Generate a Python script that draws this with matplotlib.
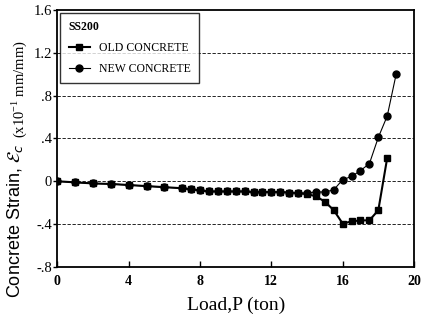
import matplotlib
matplotlib.use("Agg")
import matplotlib.pyplot as plt

load = [0, 1, 2, 3, 4, 5, 6, 7, 7.5, 8, 8.5, 9, 9.5, 10, 10.5, 11, 11.5, 12, 12.5,
        13, 13.5, 14, 14.5, 15, 15.5, 16, 16.5, 17, 17.5, 18, 18.5, 19]
old_concrete = [0, -0.01, -0.02, -0.025, -0.035, -0.045, -0.055, -0.065, -0.075, -0.085,
                -0.095, -0.095, -0.095, -0.095, -0.095, -0.1, -0.1, -0.1, -0.1, -0.105,
                -0.11, -0.12, -0.14, -0.19, -0.27, -0.395, -0.375, -0.365, -0.365, -0.27, 0.22]
new_concrete = [0, -0.01, -0.02, -0.025, -0.035, -0.045, -0.055, -0.065, -0.075, -0.085,
                -0.095, -0.095, -0.095, -0.095, -0.095, -0.1, -0.1, -0.1, -0.1, -0.105,
                -0.11, -0.11, -0.10, -0.10, -0.08, 0.015, 0.045, 0.10, 0.165, 0.41, 0.61, 1.0]
xticks = [0, 4, 8, 12, 16, 20]
yticks = [-0.8, -0.4, 0, 0.4, 0.8, 1.2, 1.6]
ytick_labels = ["-.8", "-.4", "0", ".4", ".8", "1.2", "1.6"]
grid_levels = [-0.4, 0, 0.4, 0.8, 1.2]

serif = "Liberation Serif"
fig = plt.figure(figsize=(4.22, 3.22), dpi=100)
ax = fig.add_axes([0.136, 0.171, 0.845, 0.798])

for g in grid_levels:
    ax.axhline(g, color="black", lw=0.6, ls=(0, (4, 2)), zorder=1)

ax.plot(load[:len(old_concrete)], old_concrete, color="black", lw=1.5, marker="s",
        markersize=5, label="OLD CONCRETE", zorder=3)
ax.plot(load, new_concrete, color="black", lw=0.8, marker="o",
        markersize=5, label="NEW CONCRETE", zorder=3)

ax.set_xlim(0, 20)
ax.set_ylim(-0.8, 1.6)
ax.set_xticks(xticks)
ax.set_xticklabels([str(t) for t in xticks], fontfamily=serif, fontsize=10, fontweight="bold")
ax.set_yticks(yticks)
ax.set_yticklabels(ytick_labels, fontfamily=serif, fontsize=10.5)
ax.tick_params(axis="x", direction="in", length=4, width=1, pad=6)
ax.tick_params(axis="y", direction="out", length=3, width=1, pad=1)
for s in ax.spines.values():
    s.set_linewidth(1.3)

ax.set_xlabel("Load,P (ton)", fontfamily=serif, fontsize=14, labelpad=6)

fig.text(0.035, 1 - 298 / 322, r"Concrete Strain, $\mathcal{E}_c$", rotation=90,
         ha="center", va="bottom", fontsize=13, fontfamily="Liberation Sans")
fig.text(0.045, 1 - 138 / 322, r"(x10$^{\mathregular{-1}}$ mm/mm)", rotation=90,
         ha="center", va="bottom", fontsize=10.5, fontfamily=serif)

leg = ax.legend(loc="upper left", title="SS200", frameon=True,
                fancybox=False, edgecolor="black", borderaxespad=0.25,
                prop={"family": serif, "size": 8.5}, handlelength=1.8,
                labelspacing=0.75, borderpad=0.7,
                title_fontproperties={"family": serif, "size": 8.5, "weight": "bold"})
leg._legend_box.align = "left"
leg.get_frame().set_linewidth(1.0)

fig.savefig("out.png", dpi=100)
